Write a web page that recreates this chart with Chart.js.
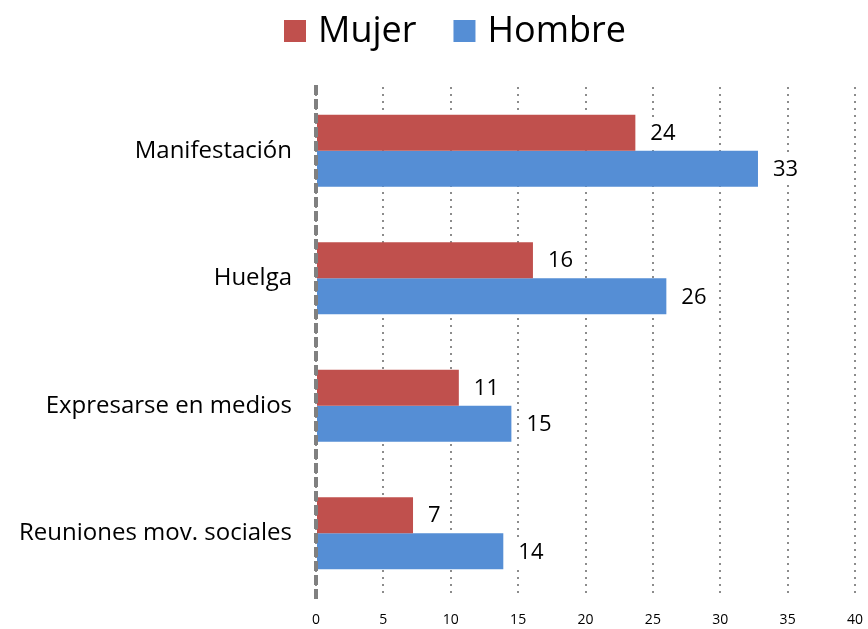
<!DOCTYPE html>
<html>
<head>
<meta charset="utf-8">
<script src="https://cdn.jsdelivr.net/npm/chart.js@4"></script>
<style>
  html, body { margin: 0; padding: 0; background: #fff; }
  #wrap { width: 868px; height: 629px; }
</style>
</head>
<body>
<div id="wrap"><canvas id="chart"></canvas></div>
<script>
// categories (top to bottom)
const categories = ['Manifestación', 'Huelga', 'Expresarse en medios', 'Reuniones mov. sociales'];

// series values
const mujer = [23.7, 16.1, 10.6, 7.2];
const hombre = [32.8, 26.0, 14.5, 13.9];

// x axis
const xMin = 0;
const xMax = 40;
const xStep = 5;

const FONT = '"Open Sans", sans-serif';

// value labels to the right of each bar, on a white box
const barLabels = {
  id: 'barLabels',
  afterDatasetsDraw(chart) {
    const ctx = chart.ctx;
    ctx.save();
    ctx.font = '22px ' + FONT;
    ctx.textBaseline = 'middle';
    chart.data.datasets.forEach((ds, i) => {
      chart.getDatasetMeta(i).data.forEach((bar, j) => {
        const txt = String(Math.round(ds.data[j]));
        const w = ctx.measureText(txt).width;
        const x = bar.x + 15;
        ctx.fillStyle = '#fff';
        ctx.fillRect(x - 4, bar.y - 14, w + 8, 28);
        ctx.fillStyle = '#000';
        ctx.fillText(txt, x, bar.y + 1);
      });
    });
    ctx.restore();
  }
};

// dashed zero line on the left of the plot
const zeroLine = {
  id: 'zeroLine',
  afterDatasetsDraw(chart) {
    const ctx = chart.ctx;
    const a = chart.chartArea;
    const x = chart.scales.x.getPixelForValue(0);
    ctx.save();
    ctx.strokeStyle = '#808080';
    ctx.lineWidth = 4;
    ctx.setLineDash([10, 4]);
    ctx.beginPath();
    ctx.moveTo(x, a.top - 2);
    ctx.lineTo(x, a.bottom + 6);
    ctx.stroke();
    ctx.restore();
  }
};

// legend on top
const topLegend = {
  id: 'topLegend',
  afterDraw(chart) {
    const ctx = chart.ctx;
    ctx.save();
    ctx.font = '36px ' + FONT;
    ctx.textBaseline = 'middle';
    const box = 22, gapText = 12, gapItem = 37;
    let x = 284;
    const y = 31;
    chart.data.datasets.forEach(d => {
      const w = ctx.measureText(d.label).width;
      ctx.fillStyle = d.backgroundColor;
      ctx.fillRect(x, y - box / 2, box, box);
      ctx.fillStyle = '#000';
      ctx.fillText(d.label, x + box + gapText, y + 1);
      x += box + gapText + w + gapItem;
    });
    ctx.restore();
  }
};

new Chart(document.getElementById('chart'), {
  type: 'bar',
  data: {
    labels: categories,
    datasets: [
      { label: 'Mujer', data: mujer, backgroundColor: '#C0504D', categoryPercentage: 0.5655, barPercentage: 1 },
      { label: 'Hombre', data: hombre, backgroundColor: '#558ED5', categoryPercentage: 0.5655, barPercentage: 1 }
    ]
  },
  options: {
    indexAxis: 'y',
    responsive: true,
    maintainAspectRatio: false,
    animation: false,
    layout: { padding: { left: 0, right: 0, top: 87, bottom: 0 } },
    plugins: {
      legend: { display: false },
      tooltip: { enabled: false }
    },
    scales: {
      x: {
        min: xMin,
        max: xMax,
        afterFit(s) { s.height = 32; s.paddingLeft = 0; s.paddingRight = 13; },
        ticks: { stepSize: xStep, font: { family: FONT, size: 14 }, color: '#000', padding: 15 },
        grid: { color: '#8c8c8c', lineWidth: 2, drawTicks: false },
        border: { display: false, dash: [2, 5] }
      },
      y: {
        afterFit(s) { s.width = 316; s.paddingTop = 0; s.paddingBottom = 0; },
        ticks: { font: { family: FONT, size: 24 }, color: '#000', padding: 24 },
        grid: { display: false, drawTicks: false },
        border: { display: false }
      }
    }
  },
  plugins: [barLabels, zeroLine, topLegend]
});
</script>
</body>
</html>
